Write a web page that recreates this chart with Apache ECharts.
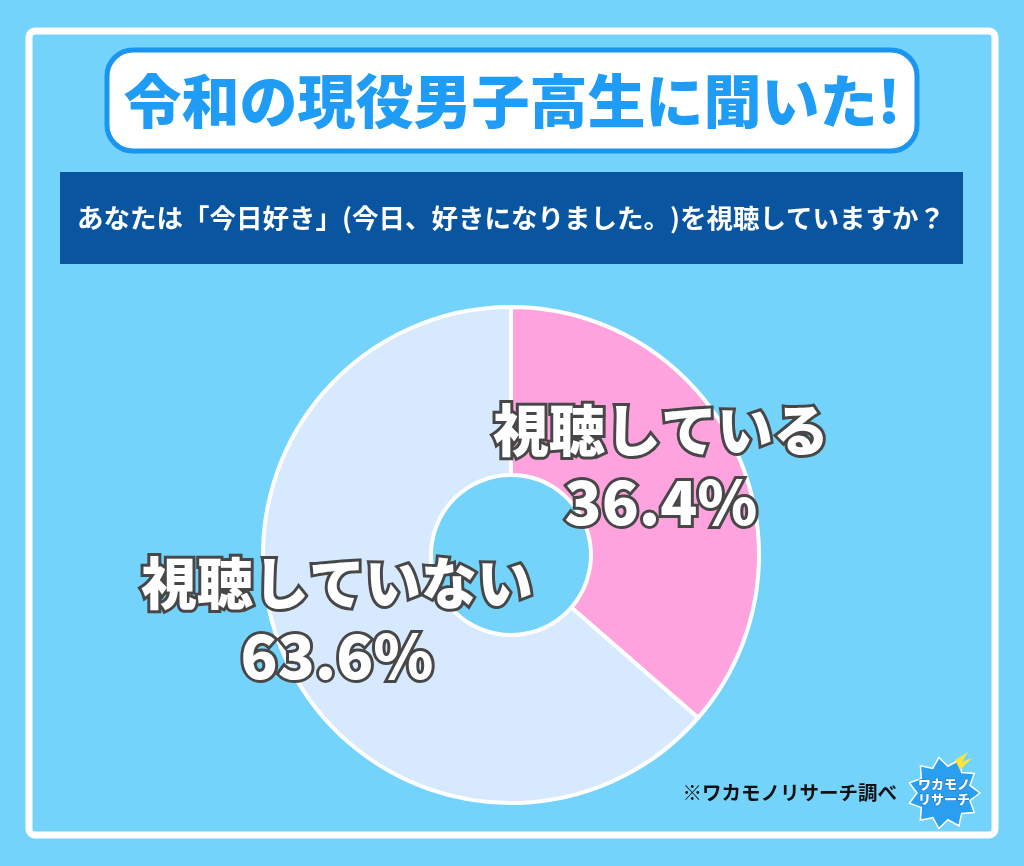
<!DOCTYPE html>
<html><head><meta charset="utf-8">
<script src="https://cdn.jsdelivr.net/npm/echarts@6/dist/echarts.min.js"></script>
<style>html,body{margin:0;padding:0;background:#74d3fb;}#c{width:1024px;height:866px;}</style>
</head><body><div id="c"></div>
<script>
const titleText = '令和の現役男子高生に聞いた!';
const questionText = 'あなたは「今日好き」(今日、好きになりました。)を視聴していますか？';
const sourceText = '※ワカモノリサーチ調べ';
const categories = ['視聴している', '視聴していない'];
const values = [36.4, 63.6];
const colors = ['#ffa3df', '#d6e9fe'];

const chart = echarts.init(document.getElementById('c'));
const FONT = '"Noto Sans CJK JP", sans-serif';

function burstPoints(cx, cy, r1, r2, n) {
  const pts = [];
  for (let i = 0; i < n * 2; i++) {
    const a = Math.PI * i / n;
    const r = i % 2 ? r2 : r1;
    pts.push([cx + r * Math.cos(a), cy + r * Math.sin(a)]);
  }
  return pts;
}

chart.setOption({
  backgroundColor: '#74d3fb',
  animation: false,
  graphic: [
    { type: 'rect', z: 0, shape: { x: 29, y: 31, width: 966, height: 804, r: 6 },
      style: { fill: 'transparent', stroke: '#ffffff', lineWidth: 7 } },
    { type: 'rect', z: 1, shape: { x: 107, y: 50, width: 810, height: 101, r: 26 },
      style: { fill: '#ffffff', stroke: '#1a96f0', lineWidth: 5 } },
    { type: 'text', z: 3, x: 512, y: 101,
      style: { text: titleText, fill: '#1e9cf6', font: '900 58px ' + FONT,
        align: 'center', verticalAlign: 'middle', stroke: '#ffffff', lineWidth: 2,
        shadowColor: '#1a86d8', shadowOffsetX: 3, shadowOffsetY: 4, shadowBlur: 0 } },
    { type: 'rect', z: 1, shape: { x: 60, y: 172, width: 903, height: 92 },
      style: { fill: '#0a55a0' } },
    { type: 'text', z: 3, x: 511, y: 218,
      style: { text: questionText, fill: '#ffffff', font: 'bold 26.5px ' + FONT,
        align: 'center', verticalAlign: 'middle' } },
    { type: 'text', z: 3, x: 897, y: 793,
      style: { text: sourceText, fill: '#111111', font: 'bold 19.5px ' + FONT,
        align: 'right', verticalAlign: 'middle' } },
    { type: 'polygon', z: 3, shape: { points: burstPoints(944, 793, 36, 27, 11) },
      style: { fill: '#2a9ff0', stroke: '#ffffff', lineWidth: 1.5 } },
    { type: 'polygon', z: 3, shape: { points: [[955,760],[968,752],[962,762],[972,758],[960,770]] },
      style: { fill: '#ffe53a' } },
    { type: 'text', z: 4, x: 944, y: 792,
      style: { text: 'ワカモノ\nリサーチ', fill: '#ffffff', font: '900 13px ' + FONT,
        align: 'center', verticalAlign: 'middle', lineHeight: 15, stroke: '#1a6fc0', lineWidth: 1 } }
  ],
  series: [{
    type: 'pie',
    center: [511, 555],
    radius: [80, 248],
    startAngle: 90,
    clockwise: true,
    silent: true,
    itemStyle: { borderColor: '#ffffff', borderWidth: 4 },
    labelLine: { show: false },
    data: categories.map((c, i) => ({
      name: c, value: values[i], itemStyle: { color: colors[i] },
      label: { offset: i === 0 ? [-2, -20] : [-22, -5] }
    })),
    label: {
      show: true,
      position: 'inside',
      formatter: p => '{n|' + p.name + '}\n{v|' + p.value.toFixed(1) + '%}',
      rich: {
        n: { fontFamily: FONT, fontWeight: 900, fontSize: 56, color: '#ffffff',
             textBorderColor: '#474747', textBorderWidth: 6, lineHeight: 73, align: 'center' },
        v: { fontFamily: FONT, fontWeight: 900, fontSize: 61, color: '#ffffff',
             textBorderColor: '#474747', textBorderWidth: 6, lineHeight: 73, align: 'center' }
      }
    }
  }]
});
</script></body></html>
